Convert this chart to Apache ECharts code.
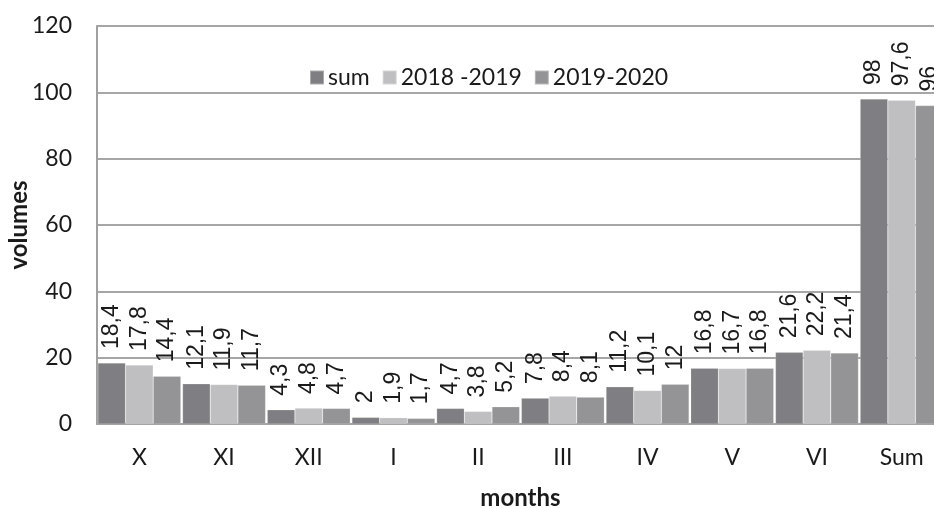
<!DOCTYPE html>
<html><head><meta charset="utf-8">
<script src="https://cdn.jsdelivr.net/npm/echarts@6/dist/echarts.min.js"></script>
<style>html,body{margin:0;padding:0;background:#fff}#c{width:934px;height:508px}</style>
</head><body><div id="c"></div>
<script>
const categories = ['X','XI','XII','I','II','III','IV','V','VI','Sum'];
const seriesNames = ['sum','2018 -2019','2019-2020'];
const sumValues = [18.4,12.1,4.3,2,4.7,7.8,11.2,16.8,21.6,98];
const values1819 = [17.8,11.9,4.8,1.9,3.8,8.4,10.1,16.7,22.2,97.6];
const values1920 = [14.4,11.7,4.7,1.7,5.2,8.1,12,16.8,21.4,96];
const yTicks = {min:0,max:120,interval:20};
const colors = ['#7f7f83','#bfbfc1','#949497'];

const tickFont = 'Lato, "Open Sans", sans-serif';
const labelFont = '"Liberation Sans", Arial, sans-serif';
function mk(name, data, color){
  return {
    name, type:'bar', data, barGap:0, barCategoryGap:'2%',
    itemStyle:{color, borderColor:'rgba(255,255,255,0.35)', borderWidth:0.5},
    label:{show:true, position:'top', rotate:90, distance:14, align:'left', verticalAlign:'middle',
      fontFamily:labelFont, fontSize:23, color:'#1a1a1a',
      formatter:p=>String(p.value).replace('.',',')}
  };
}
const chart = echarts.init(document.getElementById('c'));
chart.setOption({
  animation:false,
  color:colors,
  grid:{left:97, right:-10, top:26, bottom:84, containLabel:false, outerBoundsMode:'none'},
  legend:{left:304, top:61, itemWidth:14, itemHeight:14, itemGap:12, icon:'rect',
    textStyle:{fontFamily:tickFont, fontSize:23, color:'#1a1a1a', padding:[0,0,0,-1]},
    data:seriesNames},
  xAxis:{type:'category', data:categories,
    axisLine:{lineStyle:{color:'#a0a0a0', width:2}}, axisTick:{show:false},
    axisLabel:{fontFamily:tickFont, fontSize:23, color:'#1a1a1a', margin:22},
    name:'months', nameLocation:'middle', nameGap:62, nameMoveOverlap:false,
    nameTextStyle:{fontFamily:tickFont, fontSize:24, fontWeight:'bold', color:'#1a1a1a'}},
  yAxis:{type:'value', min:yTicks.min, max:yTicks.max, interval:yTicks.interval,
    axisLine:{show:true, lineStyle:{color:'#a0a0a0', width:2}}, axisTick:{show:false},
    splitLine:{lineStyle:{color:'#a6a6a6', width:2}},
    axisLabel:{fontFamily:tickFont, fontSize:23, color:'#1a1a1a', margin:25},
    name:'volumes', nameLocation:'middle', nameGap:66, nameRotate:90, nameMoveOverlap:false,
    nameTextStyle:{fontFamily:tickFont, fontSize:24, fontWeight:'bold', color:'#1a1a1a'}},
  series:[mk(seriesNames[0],sumValues,colors[0]), mk(seriesNames[1],values1819,colors[1]), mk(seriesNames[2],values1920,colors[2])]
});
</script></body></html>
